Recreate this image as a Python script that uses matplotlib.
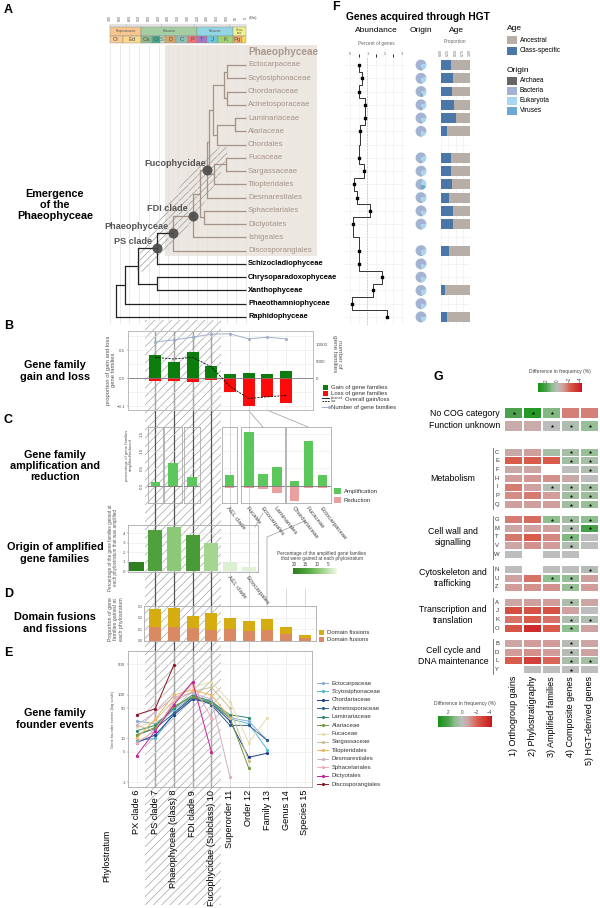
import numpy as np
import matplotlib.pyplot as plt
from matplotlib.patches import Rectangle, Ellipse
from matplotlib.colors import LinearSegmentedColormap, Normalize
from matplotlib.cm import ScalarMappable
from matplotlib.ticker import NullLocator

plt.rcParams['font.family'] = ['Liberation Sans', 'DejaVu Sans']
plt.rcParams['hatch.linewidth'] = 0.5
plt.rcParams['axes.linewidth'] = 0.5

nan = np.nan

# ---------------- A: tree (node ages, Ma) ----------------
tips = ['Ectocarpaceae', 'Scytosiphonaceae', 'Chordariaceae', 'Acinetosporaceae',
        'Laminariaceae', 'Alariaceae', 'Chordales', 'Fucaceae', 'Sargassaceae',
        'Tilopteridales', 'Desmarestiales', 'Sphacelariales', 'Dictyotales',
        'Ishigeales', 'Discosporangiales', 'Schizocladiophyceae',
        'Chrysoparadoxophyceae', 'Xanthophyceae', 'Phaeothamniophyceae', 'Raphidophyceae']
n_phaeo = 15
ectocarpales = (113, [(99, ['Ectocarpaceae', 'Scytosiphonaceae'], ''),
                      (99, ['Chordariaceae', 'Acinetosporaceae'], '')], '')
laminariales = (149, [(57, ['Laminariaceae', 'Alariaceae'], ''), 'Chordales'], '')
fucales = (165, [(103, ['Fucaceae', 'Sargassaceae'], ''), 'Tilopteridales'], '')
fucophycidae = (199, [(190, [(170, [ectocarpales, laminariales], ''), fucales], ''),
                      'Desmarestiales'], 'Fucophycidae')
fdi = (275, [(237, [fucophycidae, (216, ['Sphacelariales', 'Dictyotales'], '')], ''),
             'Ishigeales'], 'FDI clade')
phaeo = (376, [fdi, 'Discosporangiales'], 'Phaeophyceae')
ps = (460, [phaeo, 'Schizocladiophyceae'], 'PS clade')
tree = (670, [(624, [(558, [ps, (458, ['Chrysoparadoxophyceae', 'Xanthophyceae'], '')], ''),
                     'Phaeothamniophyceae'], ''), 'Raphidophyceae'], '')

eras = ['Neoproterozoic', 'Paleozoic', 'Mesozoic', 'Ceno-\nzoic']
era_bounds = [700, 541, 252, 66, 0]
periods = ['Cr', 'Ed', 'Ca', 'O', 'S', 'D', 'C', 'P', 'T', 'J', 'K', 'Pg', '']
period_bounds = [700, 635, 541, 485, 444, 419, 359, 299, 252, 201, 145, 66, 23, 0]

# ---------------- F: HGT ----------------
hgt_pct = [0.52, 0.67, 0.52, 0.85, 0.85, 0.56, nan, 0.50, 0.79, 0.25, 0.40, 1.15,
           0.19, nan, 0.52, 0.54, 1.83, 1.35, 0.12, 2.15]
origin_viruses = [0.04, 0.03, 0.08, 0.05, 0.04, 0.02, nan, 0.04, 0.03, 0.20, 0.03, 0.04,
                  0.03, nan, 0.03, 0.02, 0.02, 0.03, 0.02, 0.03]
origin_eukaryota = [0.25, 0.25, 0.20, 0.25, 0.20, 0.20, nan, 0.28, 0.25, 0.25, 0.25, 0.18,
                    0.22, nan, 0.27, 0.18, 0.20, 0.25, 0.18, 0.22]
origin_bacteria = [0.70, 0.71, 0.71, 0.69, 0.75, 0.77, nan, 0.67, 0.71, 0.54, 0.71, 0.77,
                   0.74, nan, 0.69, 0.79, 0.77, 0.71, 0.79, 0.74]
origin_archaea = [0.01, 0.01, 0.01, 0.01, 0.01, 0.01, nan, 0.01, 0.01, 0.01, 0.01, 0.01,
                  0.01, nan, 0.01, 0.01, 0.01, 0.01, 0.01, 0.01]
age_class_specific = [0.36, 0.41, 0.39, 0.44, 0.53, 0.20, nan, 0.33, 0.34, 0.38, 0.28, 0.43,
                      0.40, nan, 0.28, nan, nan, 0.14, nan, 0.20]

# ---------------- B: gain / loss ----------------
b_strata = [7, 8, 9, 10, 11, 12, 13, 14]
b_gain = [0.082, 0.059, 0.094, 0.044, 0.015, 0.018, 0.014, 0.024]
b_loss = [-0.009, -0.012, -0.014, -0.006, -0.051, -0.100, -0.068, -0.088]
b_overall = [0.074, 0.068, 0.074, 0.040, -0.030, -0.073, -0.067, -0.062]
b_nfam = [10600, 11200, 12000, 12900, 13000, 11500, 12000, 11500]

# ---------------- C: amplification / reduction ----------------
c_groups = [['PS clade'], ['Phaeophyceae'], ['FDI clade'], ['AEL clade'],
            ['Fucales', 'Ectocarpales', 'Laminariales'],
            ['Chordariaceae', 'Fucaceae', 'Ectocarpaceae']]
c_amp = [[0.11], [0.66], [0.26], [0.32], [1.55, 0.33, 0.55], [0.14, 1.30, 0.30]]
c_red = [[0.0], [-0.03], [0.0], [-0.05], [-0.05, -0.10, -0.20], [-0.42, -0.07, -0.07]]

# ---------------- origin of amplified families ----------------
o_strata = [6, 7, 8, 9, 10, 11, 12]
o_amplified = [0.95, 4.3, 4.6, 3.8, 2.95, 1.0, 0.45]
o_gained = [20, 15, 9, 16, 7, 2.5, 2]
o_labels = ['', '', '', '', '', 'AEL clade', 'Ectocarpales']

# ---------------- D: domain fusions / fissions ----------------
d_strata = [7, 8, 9, 10, 11, 12, 13, 14, 15]
d_fusions = [0.12, 0.12, 0.11, 0.095, 0.10, 0.085, 0.095, 0.06, 0.025]
d_fissions = [0.16, 0.165, 0.11, 0.15, 0.10, 0.085, 0.095, 0.06, 0.025]

# ---------------- E: founder events (from stratum 6) ----------------
strata_labels = ['PX clade 6', 'PS clade 7', 'Phaeophyceae (class) 8', 'FDI clade 9',
                 'Fucophycidae (Subclass) 10', 'Superorder 11', 'Order 12', 'Family 13',
                 'Genus 14', 'Species 15']
e_families = ['Ectocarpaceae', 'Scytosiphonaceae', 'Chordariaceae', 'Acinetosporaceae',
              'Laminariaceae', 'Alariaceae', 'Fucaceae', 'Sargassaceae', 'Tilopteridales',
              'Desmarestiales', 'Sphacelariales', 'Dictyotales', 'Discosporangiales']
e_ecto = [25, 22, 45, 90, 75, 30, 25, 9]
e_scyto = [9, 10, 40, 85, 70, 28, 22, 5.5]
e_chord = [8, 12, 35, 80, 65, 25, 3.7, 4.6]
e_acin = [12, 17, 38, 90, 60, 20, 20, 9]
e_lami = [15, 20, 50, 100, 70, 35, 30]
e_alar = [12, 18, 55, 90, 65, 30, 2.1]
e_fuca = [18, 25, 80, 150, 200, 70, 8, 30]
e_sarg = [20, 15, 70, 120, 150, 50, 3]
e_tilo = [10, 28, 100, 130, 100, 30]
e_desm = [20, 40, 90, 110, 80, 1.3]
e_spha = [8, 15, 70, 180, 30]
e_dict = [4, 15, 60, 200, 5]
e_disc = [35, 48, 490]
e_values = [e_ecto, e_scyto, e_chord, e_acin, e_lami, e_alar, e_fuca, e_sarg,
            e_tilo, e_desm, e_spha, e_dict, e_disc]
e_colors = ['#86aed3', '#52b6cf', '#1d3f8f', '#2f5d8e', '#2d8b72', '#6f9a3e', '#e6dcae',
            '#cdbf98', '#f2b55c', '#cfb0c6', '#f2aabb', '#c4229a', '#8c1426']

# ---------------- G: functional categories ----------------
g_groups = [('', ['No COG category']), ('', ['Function unknown']),
            ('Metabolism', ['C', 'E', 'F', 'H', 'I', 'P', 'Q']),
            ('Cell wall and\nsignalling', ['G', 'M', 'T', 'V', 'W']),
            ('Cytoskeleton and\ntrafficking', ['N', 'U', 'Z']),
            ('Transcription and\ntranslation', ['A', 'J', 'K', 'O']),
            ('Cell cycle and\nDNA maintenance', ['B', 'D', 'L', 'Y'])]
g_columns = ['1) Orthogroup gains', '2) Phylostratigraphy', '3) Amplified families',
             '4) Composite genes', '5) HGT-derived genes']
g_ortho = [2.0, -0.5, -0.6, -2.2, -0.6, -1.0, -1.6, -1.3, -0.9, -1.6, -0.7, -1.7, -0.7,
           0.0, 0.0, -0.8, -1.0, -0.7, -2.6, -1.8, -2.4, -0.7, -1.0, -2.2, nan]
g_phylo = [3.0, -0.5, -0.9, -2.2, -0.7, -1.1, -0.8, -1.6, -0.9, -1.9, -0.8, -2.2, -1.2,
           nan, nan, -1.8, -1.2, -0.9, -2.5, -2.2, -3.6, -1.0, -1.2, -3.0, 0.0]
g_amplif = [1.2, 0.0, 0.5, -2.2, nan, -1.2, 0.2, -1.0, -0.9, 1.0, -0.8, -1.4, -1.0,
            0.0, 0.0, 1.0, -1.2, -1.0, -2.5, -1.8, -2.2, -1.0, -1.0, -2.0, 0.0]
g_compos = [-1.5, 0.3, 0.5, 0.6, 0.0, -0.6, 0.4, 0.6, 0.6, 0.6, 0.3, 1.2, 0.3,
            0.0, 0.0, 0.9, 0.8, 0.4, -0.8, 0.3, 1.0, 0.2, 0.2, 0.4, 0.0]
g_hgt = [-1.5, 0.8, 0.8, 0.5, 0.3, 0.0, 0.6, 0.7, 0.8, 1.0, 2.2, 0.0, 0.0,
         nan, 0.2, -0.9, -1.0, -0.7, 0.0, 0.3, -0.8, -0.7, -0.8, 0.5, 0.0]
star_ortho = ['No COG category']
star_phylo = ['No COG category']
star_amplif = ['No COG category', 'Function unknown', 'I', 'G', 'U']
star_compos = ['Function unknown', 'C', 'E', 'I', 'P', 'Q', 'G', 'M', 'T', 'V', 'U', 'Z',
               'A', 'K', 'O', 'B', 'D', 'L', 'Y']
star_hgt = ['Function unknown', 'C', 'E', 'F', 'I', 'P', 'Q', 'G', 'M', 'N', 'K', 'L']

# ---------------- layout helpers (pixel based) ----------------
W, H = 600, 908
fig = plt.figure(figsize=(W / 100, H / 100), dpi=100)


def px_axes(x0, y0, x1, y1, z=1.0):
    a = fig.add_axes([x0 / W, 1 - y1 / H, (x1 - x0) / W, (y1 - y0) / H])
    a.set_zorder(z)
    a.patch.set_alpha(0)
    return a


PX6, STEP = 136.5, 18.7


def strat_lim(x0, x1):
    return 6 + (x0 - PX6) / STEP, 6 + (x1 - PX6) / STEP


ROW0, ROWH = 65, 13.26


def row_lim(y0, y1):
    return (y1 - ROW0) / ROWH, (y0 - ROW0) / ROWH


def rowy(p):
    return (p - ROW0) / ROWH


MA0, MAPX = 246, 0.1943


def frame(a, col='#bdbdbd'):
    for s in a.spines.values():
        s.set_color(col)
        s.set_linewidth(0.6)
    a.tick_params(length=1, width=0.3, labelsize=3.2, colors='#555', pad=1)


GRID = '#e8e8e8'

# overlay in pixel coordinates
ax0 = px_axes(0, 0, W, H, z=0)
ax0.set_xlim(0, W)
ax0.set_ylim(H, 0)
ax0.axis('off')

for letter, x, y in [('A', 4, 10), ('B', 4, 326), ('C', 4, 420), ('D', 4, 594),
                     ('E', 4, 653), ('F', 332, 7), ('G', 433, 377)]:
    ax0.text(x, y, letter, fontsize=9, fontweight='bold', va='center')

for txt, y in [('Emergence\nof the\nPhaeophyceae', 205), ('Gene family\ngain and loss', 371),
               ('Gene family\namplification and\nreduction', 466),
               ('Origin of amplified\ngene families', 553), ('Domain fusions\nand fissions', 623),
               ('Gene family\nfounder events', 719)]:
    ax0.text(55, y, txt, fontsize=7.8, fontweight='bold', ha='center', va='center',
             linespacing=1.15)

# ---------------- A ----------------
ax0.add_patch(Rectangle((165, 45), 152, 211, color='#ede7e1', lw=0, zorder=0))
ax0.add_patch(Ellipse((182, 209), 152, 30, angle=-55, fill=False, hatch='/////',
                      edgecolor='#9a9a9a', lw=0, zorder=1))

axA = px_axes(105, 10, 330, 323.6)
axA.set_xlim((MA0 - 105) / MAPX, (MA0 - 330) / MAPX)
axA.set_ylim(*row_lim(10, 323.6))
axA.axis('off')
axA.vlines(np.arange(0, 701, 50), rowy(45), 19.5, color='#e2e2e2', lw=0.5, zorder=0)
axA.vlines(np.arange(0, 701, 10), rowy(23.5), rowy(26.5), color='#777', lw=0.3)
for i, name in enumerate(eras):
    s, e = era_bounds[i], era_bounds[i + 1]
    axA.barh((rowy(27) + rowy(35.5)) / 2, e - s, left=s, height=rowy(35.5) - rowy(27),
             color=['#f7c690', '#a4cda4', '#93d5e2', '#f1f28a'][i], edgecolor='#888', lw=0.3)
    axA.text((s + e) / 2, (rowy(27) + rowy(35.5)) / 2, name, fontsize=2.2, ha='center',
             va='center', color='#555', linespacing=0.8)
pcols = ['#fbcb8f', '#fbd98f', '#93bb8b', '#45a98c', '#c1e3c6', '#d9a468', '#8dbfb6',
         '#f07272', '#a877c4', '#6cc6dc', '#a1d46f', '#f8a96d', '#f6e24a']
for i, name in enumerate(periods):
    s, e = period_bounds[i], period_bounds[i + 1]
    axA.barh((rowy(35.5) + rowy(43)) / 2, e - s, left=s, height=rowy(43) - rowy(35.5),
             color=pcols[i], edgecolor='#888', lw=0.3)
    axA.text((s + e) / 2, (rowy(35.5) + rowy(43)) / 2, name, fontsize=4.3, ha='center',
             va='center', color='#555')
for t in range(0, 701, 50):
    axA.text(t, rowy(18), str(t), fontsize=2.6, rotation=90, ha='center', va='center',
             color='#555')
axA.text(-12, rowy(18), '(Ma)', fontsize=3, ha='left', va='center', color='#555')

BROWN, DARK = '#a39389', '#222222'
named = []


def draw_node(node, inside):
    if isinstance(node, str):
        return tips.index(node)
    age, kids, name = node
    inside = inside or name == 'Phaeophyceae'
    col = BROWN if inside else DARK
    ys = []
    for k in kids:
        y = draw_node(k, inside)
        kage = 0 if isinstance(k, str) else k[0]
        axA.plot([age, kage], [y, y], color=col, lw=0.9, solid_capstyle='butt', zorder=3)
        ys.append(y)
    axA.plot([age, age], [min(ys), max(ys)], color=col, lw=0.9, zorder=3)
    ym = (min(ys) + max(ys)) / 2
    if name:
        named.append((name, age, ym))
    return ym


draw_node(tree, False)
for name, age, ym in named:
    axA.scatter(age, ym, s=52, color='#4a4a4a', alpha=0.9, lw=0, zorder=5)
    dx = -1 if name == 'Fucophycidae' else -3.2
    axA.annotate(name, (age, ym), xytext=(dx, 4.8), textcoords='offset points', ha='right',
                 va='center', fontsize=6.6, fontweight='bold', color='#555', zorder=6)
for i, t in enumerate(tips):
    if i < n_phaeo:
        axA.text(-10.3, i, t, fontsize=5.6, color=BROWN, va='center', ha='left')
    else:
        axA.text(-10.3, i, t, fontsize=5.4, color='k', fontweight='bold', va='center', ha='left')
axA.text(-10.3, -1, 'Phaeophyceae', fontsize=7.2, color='#a8998f', fontweight='bold',
         va='center', ha='left')

# ---------------- F ----------------
ax0.text(346, 17, 'Genes acquired through HGT', fontsize=7.4, fontweight='bold', va='center')
for txt, x in [('Abundance', 376), ('Origin', 421), ('Age', 456)]:
    ax0.text(x, 31, txt, fontsize=6, ha='center', va='center')
ax0.text(376, 43, 'Percent of genes', fontsize=3.4, ha='center', va='center', color='#666')
ax0.text(455, 41, 'Proportion', fontsize=3.4, ha='center', va='center', color='#666')

rows = np.arange(len(hgt_pct))
axF1 = px_axes(343, 57, 405, 325)
axF1.set_xlim((343 - 350) / 17.3, (405 - 350) / 17.3)
axF1.set_ylim(*row_lim(57, 325))
axF1.set_xticks([0, 1, 2, 3])
axF1.set_xticks([0.5, 1.5, 2.5], minor=True)
axF1.set_yticks(rows)
axF1.set_yticklabels([])
axF1.grid(which='both', color='#ececec', lw=0.4)
axF1.xaxis.tick_top()
axF1.tick_params(length=0, labelsize=2.8, colors='#666', pad=1)
for s in axF1.spines.values():
    s.set_visible(False)
axF1.axvline(1, color='#c4c4c4', lw=0.6, ls=(0, (2, 1.5)))
valid = [i for i in rows if not np.isnan(hgt_pct[i])]
sx, sy = [hgt_pct[valid[0]]], [valid[0]]
for a_, b_ in zip(valid[:-1], valid[1:]):
    m = (a_ + b_) / 2
    sx += [hgt_pct[a_], hgt_pct[b_], hgt_pct[b_]]
    sy += [m, m, b_]
axF1.plot(sx, sy, color='#333', lw=0.7)
axF1.scatter([hgt_pct[i] for i in valid], valid, marker='s', s=3, color='k', zorder=3)

axF2 = px_axes(410, 57, 432, 325)
for i in rows:
    if np.isnan(origin_bacteria[i]):
        continue
    axF2.pie([origin_viruses[i], origin_eukaryota[i], origin_bacteria[i], origin_archaea[i]],
             colors=['#6aaad2', '#a8d6f0', '#a3b3d3', '#666666'], center=(11 / ROWH, i),
             radius=0.41, startangle=90, counterclock=False, frame=True,
             wedgeprops=dict(lw=0))
axF2.set_aspect('auto')
axF2.set_xlim(0, 22 / ROWH)
axF2.set_ylim(*row_lim(57, 325))
axF2.axis('off')

axF3 = px_axes(441, 57, 470, 325)
axF3.set_xlim(0, 1)
axF3.set_ylim(*row_lim(57, 325))
axF3.set_xticks([0, 0.25, 0.5, 0.75, 1])
axF3.set_xticklabels(['0.00', '0.25', '0.50', '0.75', '1.00'], rotation=90)
axF3.set_yticks(rows)
axF3.set_yticklabels([])
axF3.grid(color='#ececec', lw=0.4)
axF3.set_axisbelow(True)
axF3.xaxis.tick_top()
axF3.tick_params(length=0, labelsize=2.6, colors='#666', pad=1)
for s in axF3.spines.values():
    s.set_visible(False)
ok = [i for i in rows if not np.isnan(age_class_specific[i])]
cls = np.array([age_class_specific[i] for i in ok])
axF3.barh(ok, cls, height=0.75, color='#4a77a8', lw=0)
axF3.barh(ok, 1 - cls, left=cls, height=0.75, color='#b8aea8', lw=0)

ax0.text(507, 29, 'Age', fontsize=6, va='center')
ax0.text(507, 71, 'Origin', fontsize=6, va='center')
for txt, col, y in [('Ancestral', '#b8aea8', 40), ('Class-specific', '#4a77a8', 51),
                    ('Archaea', '#666666', 81), ('Bacteria', '#a3b3d3', 91),
                    ('Eukaryota', '#a8d6f0', 101), ('Viruses', '#6aaad2', 111)]:
    ax0.add_patch(Rectangle((507, y - 4.2), 10, 8.4, color=col, lw=0))
    ax0.text(520, y, txt, fontsize=4.8, va='center')

# ---------------- vertical strata lines + hatch ----------------
axL = px_axes(128, 320, 313, 905, z=0.5)
axL.set_xlim(*strat_lim(128, 313))
axL.set_ylim(905, 320)
axL.axis('off')
axL.axvspan(strat_lim(145, 145)[0], strat_lim(221, 221)[0], fill=False, hatch='////',
            edgecolor='#a5a5a5', lw=0)
axL.vlines([7, 8, 9, 10], 331, 787, color='#555', lw=0.9)
axL.vlines([11, 12], 331, 787, color='#cfcfcf', lw=0.6)

# ---------------- B ----------------
axB = px_axes(128, 331, 313, 410)
axB.set_xlim(*strat_lim(128, 313))
axB.set_ylim(-0.114, 0.168)
axB.set_xticks(range(6, 16))
axB.set_xticklabels([])
axB.set_yticks([-0.1, 0, 0.1])
axB.set_yticks([-0.05, 0.05, 0.15], minor=True)
axB.grid(which='both', color=GRID, lw=0.4)
axB.set_axisbelow(True)
axB.bar(b_strata, b_gain, width=0.64, color='#0c7c0c', zorder=2)
axB.bar(b_strata, b_loss, width=0.64, color='#ff0a0a', zorder=2)
axB.axhline(0, color='#777', lw=0.6, zorder=3)
axB.plot(b_strata, b_overall, color='k', lw=0.6, ls=(0, (2.5, 1.5)), zorder=4)
frame(axB)
axB.tick_params(axis='x', length=0)
axB.tick_params(which='minor', length=0)
axB2 = axB.twinx()
axB2.set_zorder(1.1)
axB2.patch.set_alpha(0)
axB2.set_ylim(-9412, 13824)
axB2.plot(b_strata, b_nfam, color='#a3aecb', lw=0.7, marker='o', ms=1.2, zorder=3)
axB2.set_yticks([0, 5000, 10000])
frame(axB2)
ax0.text(111, 370, 'proportion of gain and loss\ngene families', fontsize=4.2, rotation=90,
         ha='center', va='center', color='#555')
ax0.text(337, 354, 'number of\ngene families', fontsize=4.6, rotation=-90, ha='center',
         va='center', color='#555')
ax0.add_patch(Rectangle((323, 384.5), 5, 5, color='#0c7c0c', lw=0))
ax0.text(331, 387, 'Gain of gene families', fontsize=4.3, va='center', color='#333')
ax0.add_patch(Rectangle((323, 391), 5, 5, color='#ff0a0a', lw=0))
ax0.text(331, 393.5, 'Loss of gene families', fontsize=4.3, va='center', color='#333')
ax0.plot([322, 329], [398.3, 398.3], color='k', lw=0.6)
ax0.plot([322, 329], [401.3, 401.3], color='k', lw=0.6, ls=(0, (2, 1.2)))
ax0.text(330.5, 398.3, 'observed', fontsize=2.1, va='center', color='#333')
ax0.text(330.5, 401.3, 'loss', fontsize=2.1, va='center', color='#333')
ax0.text(345, 400, 'Overall gain/loss', fontsize=4.3, va='center', color='#333')
ax0.plot([322, 329], [407, 407], color='#a3aecb', lw=0.7, marker='o', ms=1.2, markevery=[1])
ax0.text(331, 407, 'Number of gene families', fontsize=4.3, va='center', color='#333')

# connectors
ax0.plot([248, 263], [410, 427], color='#999', lw=0.5)
ax0.plot([267, 308], [410, 427], color='#999', lw=0.5)
ax0.plot([263, 255], [513, 527], color='#999', lw=0.5)
ax0.plot([305, 267, 267], [521, 537, 606], color='#999', lw=0.5)
ax0.vlines([286, 305], 588, 606, color='#ccc', lw=0.5)

# ---------------- C ----------------
c_boxes = [(148, 163), (164, 182), (184, 200), (222, 237), (241, 285), (286, 331)]
for i, ((x0, x1), cats, amp, red) in enumerate(zip(c_boxes, c_groups, c_amp, c_red)):
    a = px_axes(x0, 427, x1, 503)
    n = len(cats)
    half = (x1 - x0) / 2 / 14.0
    a.set_xlim((n - 1) / 2 - half, (n - 1) / 2 + half)
    a.set_ylim(-0.49, 1.69)
    a.set_yticks([0, 0.5, 1, 1.5])
    a.grid(axis='y', color=GRID, lw=0.4)
    a.set_axisbelow(True)
    a.bar(range(n), amp, width=0.65, color='#5cc85c', zorder=2)
    a.bar(range(n), red, width=0.65, color='#eaa0a0', zorder=2)
    a.axhline(0, color='#777', lw=0.6, zorder=3)
    frame(a, '#aaaaaa')
    a.set_xticks(range(n))
    if i >= 3:
        a.set_xticklabels(cats, rotation=-52, ha='left', va='top', rotation_mode='anchor',
                          fontsize=4.4, color='#444')
    else:
        a.set_xticklabels([])
    a.tick_params(axis='x', length=0, pad=2)
    if i == 0:
        a.set_yticklabels(['0.0', '0.5', '1.0', '1.5'], rotation=90, va='center')
        a.tick_params(axis='y', labelsize=3.2, pad=2)
    else:
        a.set_yticklabels([])
        a.tick_params(axis='y', length=0)
ax0.text(129, 455, 'percentage of gene families\namplified/reduced', fontsize=3.1,
         rotation=90, ha='center', va='center', color='#555')
ax0.add_patch(Rectangle((334, 488), 7, 6, color='#5cc85c', lw=0))
ax0.text(344, 491, 'Amplification', fontsize=4.3, va='center', color='#333')
ax0.add_patch(Rectangle((334, 497), 7, 6, color='#eaa0a0', lw=0))
ax0.text(344, 500, 'Reduction', fontsize=4.3, va='center', color='#333')

# ---------------- Origin of amplified ----------------
gcmap = LinearSegmentedColormap.from_list('g', [(0, '#eef7e4'), (0.3, '#a6d792'),
                                                (0.6, '#5eb04b'), (1, '#2c7d1e')])
gnorm = Normalize(1, 20.5)
axO = px_axes(128, 525, 258, 572)
axO.set_xlim(*strat_lim(128, 258))
axO.set_ylim(-0.1, 4.85)
axO.set_yticks([0, 1, 2, 3, 4])
axO.grid(axis='y', color=GRID, lw=0.4)
axO.set_axisbelow(True)
axO.bar(o_strata, o_amplified, width=0.75, color=gcmap(gnorm(np.array(o_gained))), zorder=2)
frame(axO, '#aaaaaa')
axO.set_xticks(o_strata)
axO.set_xticklabels(o_labels, rotation=-52, ha='left', va='top', rotation_mode='anchor',
                    fontsize=4.4, color='#444')
axO.tick_params(axis='x', length=0, pad=2)
ax0.text(113, 548, 'Percentage of the gene families gained at\neach phylostratum that was amplified',
         fontsize=3.3, rotation=90, ha='center', va='center', color='#555')
caxO = px_axes(293, 568, 337, 574, z=1)
cbO = fig.colorbar(ScalarMappable(gnorm, gcmap), cax=caxO, orientation='horizontal')
caxO.invert_xaxis()
cbO.set_ticks([20, 15, 10, 5])
cbO.outline.set_visible(False)
caxO.xaxis.set_ticks_position('top')
caxO.tick_params(labelsize=3.3, length=0, pad=1, colors='#444')
ax0.text(322, 556, 'Percentage of the amplified gene families\nthat were gained at each phylostratum',
         fontsize=3.4, ha='center', va='center', color='#444', linespacing=1.1)

# ---------------- D ----------------
axD = px_axes(144, 606, 316, 641)
axD.set_xlim(*strat_lim(144, 316))
axD.set_ylim(0, 0.302)
axD.set_yticks([0, 0.1, 0.2, 0.3])
axD.set_xticks(d_strata)
axD.set_xticklabels([])
axD.grid(color=GRID, lw=0.4)
axD.set_axisbelow(True)
axD.bar(d_strata, d_fusions, width=0.65, color='#d98a62', zorder=2)
axD.bar(d_strata, d_fissions, bottom=d_fusions, width=0.65, color='#d6ad10', zorder=2)
frame(axD, '#aaaaaa')
axD.tick_params(labelsize=2.6, length=0)
ax0.text(116, 619, 'Proportion of gene\nfamilies gained at\neach phylostratum', fontsize=3.8,
         rotation=90, ha='center', va='center', color='#555')
ax0.add_patch(Rectangle((319, 630), 5, 5, color='#d6ad10', lw=0))
ax0.text(327, 632.5, 'Domain fissions', fontsize=4.3, va='center', color='#333')
ax0.add_patch(Rectangle((319, 637), 5, 5, color='#d98a62', lw=0))
ax0.text(327, 639.5, 'Domain fusions', fontsize=4.3, va='center', color='#333')

# ---------------- E ----------------
axE = px_axes(128, 651, 312, 787)
axE.set_yscale('log')
axE.set_xlim(*strat_lim(128, 312))
axE.set_ylim(0.77, 1020)
for vals, col in zip(e_values, e_colors):
    axE.plot(np.arange(6, 6 + len(vals)), vals, color=col, lw=0.7, marker='o', ms=1.3, zorder=3)
axE.set_yticks([1, 5, 10, 50, 100, 500])
axE.set_yticklabels(['1', '5', '10', '50', '100', '500'])
axE.yaxis.set_minor_locator(NullLocator())
axE.set_xticks(range(6, 16))
axE.grid(color=GRID, lw=0.4)
axE.set_axisbelow(True)
frame(axE, '#aaaaaa')
axE.set_xticklabels(strata_labels, rotation=90, fontsize=6.6, color='k')
axE.tick_params(axis='x', length=0, pad=2, colors='k')
ax0.text(113, 719, 'Gene founder events (log scale)', fontsize=2.9, rotation=90,
         ha='center', va='center', color='#555')
ax0.text(107, 856, 'Phylostratum', fontsize=6.4, rotation=90, ha='center', va='center')
for i, (name, col) in enumerate(zip(e_families, e_colors)):
    y = 683 + 8.42 * i
    ax0.plot([317, 328], [y, y], color=col, lw=0.7)
    ax0.plot([322.5], [y], color=col, marker='o', ms=1.3)
    ax0.text(332, y, name, fontsize=4.3, va='center', color='#333')

# ---------------- G ----------------
vmin, vmax = -4.3, 3.5
nodes = [(-4.3, '#c8161c'), (-2.2, '#d85c4c'), (-1.0, '#d19c9a'), (0.0, '#bdbdbd'),
         (1.0, '#8fbf8f'), (2.0, '#4ea24e'), (3.5, '#139313')]
hcmap = LinearSegmentedColormap.from_list('h', [((v - vmin) / (vmax - vmin), c) for v, c in nodes])
hnorm = Normalize(vmin, vmax)

axG = px_axes(504, 400, 599, 680)
axG.set_xlim(-0.5, 4.5)
axG.set_ylim(680, 400)
axG.axis('off')
row_names, row_y, row_h = [], [], []
y = 413
for gi, (gname, letters) in enumerate(g_groups):
    if gi == 1:
        y += 13
    elif gi == 2:
        y += 26
    elif gi > 2:
        y += 15
    y0 = y
    for k, r in enumerate(letters):
        if k:
            y += 8.75
        row_names.append(r)
        row_y.append(y)
        row_h.append(7 if gname else 10)
    if gname:
        axG.plot([-1.08, -1.08], [y0 - 4, y + 4], color='#666', lw=0.6, clip_on=False)
        axG.text(-3.18, (y0 + y) / 2, gname, fontsize=6.3, ha='center', va='center',
                 linespacing=1.3, clip_on=False)
        for k, r in enumerate(letters):
            axG.text(-0.87, y0 + 8.75 * k, r, fontsize=4.2, ha='center', va='center',
                     color='#333', clip_on=False)
    else:
        axG.text(-0.71, y, letters[0], fontsize=6.3, ha='right', va='center', clip_on=False)
row_y = np.array(row_y)
row_h = np.array(row_h)
for c, (vals, stars) in enumerate(zip([g_ortho, g_phylo, g_amplif, g_compos, g_hgt],
                                      [star_ortho, star_phylo, star_amplif, star_compos,
                                       star_hgt])):
    vals = np.array(vals)
    m = ~np.isnan(vals)
    axG.barh(row_y[m], 0.895, left=c - 0.4475, height=row_h[m],
             color=hcmap(hnorm(vals[m])), lw=0)
    sy_ = [row_y[row_names.index(s)] for s in stars]
    axG.scatter([c] * len(sy_), sy_, marker='*', s=7, color='k', lw=0, zorder=3)
    axG.text(c, 676, g_columns[c], rotation=90, ha='center', va='top', fontsize=6.5,
             clip_on=False)

for (x0, y0, x1, y1), ty, rot in [((538, 383, 582, 392), 372, 90), ((438, 716, 492, 727), 704, 0)]:
    cax = px_axes(x0, y0, x1, y1, z=1)
    cb = fig.colorbar(ScalarMappable(hnorm, hcmap), cax=cax, orientation='horizontal')
    cax.invert_xaxis()
    cb.set_ticks([2, 0, -2, -4])
    cb.outline.set_visible(False)
    cax.xaxis.set_ticks_position('top')
    cax.tick_params(labelsize=3.3, length=0, pad=1, colors='#444', labelrotation=rot)
    ax0.text((x0 + x1) / 2, ty, 'Difference in frequency (%)', fontsize=3.6, ha='center',
             va='center', color='#444')

fig.savefig('out.png', dpi=100)
